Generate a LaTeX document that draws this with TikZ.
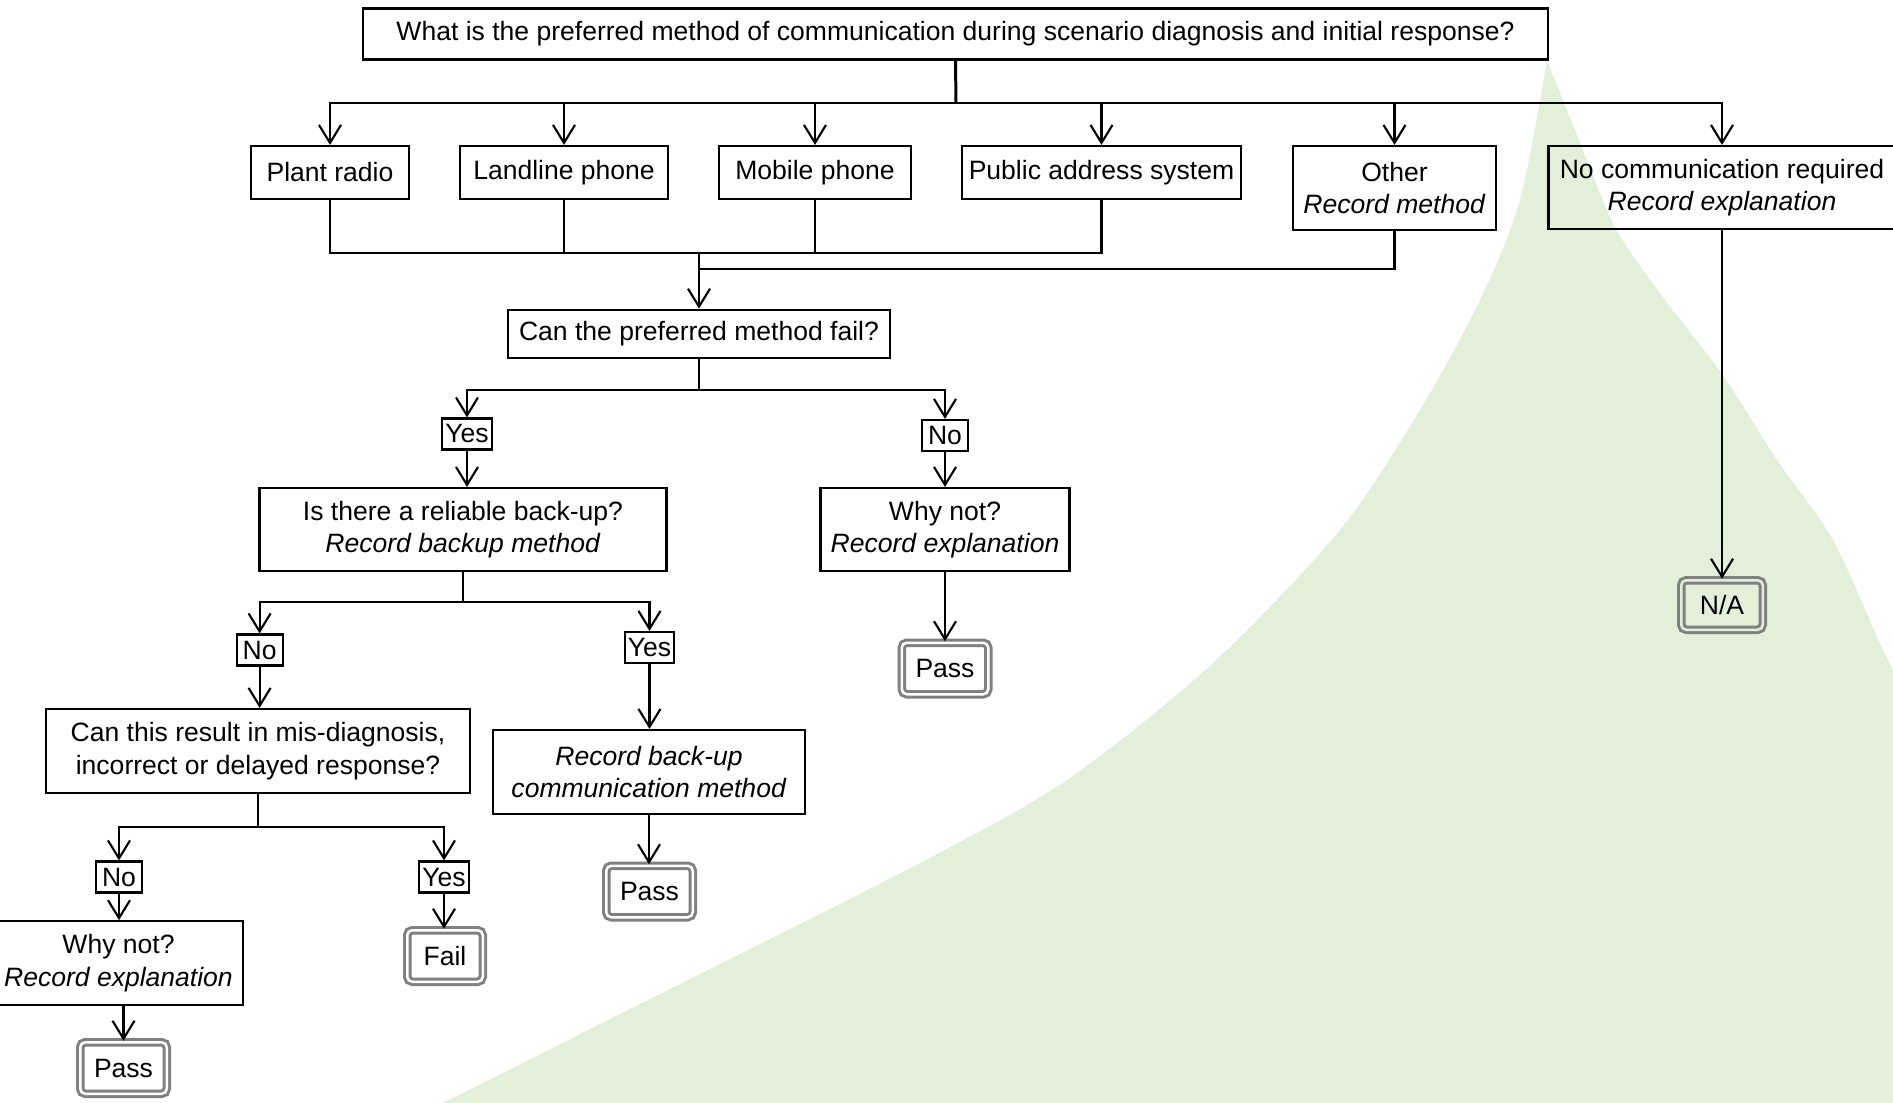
\documentclass[tikz,border=0pt]{standalone}
\usepackage{fontspec}
\setmainfont{Liberation Sans}
\usetikzlibrary{arrows.meta}
\definecolor{leafgreen}{RGB}{226,240,217}
\definecolor{termgray}{RGB}{128,128,128}

\begin{document}
\begin{tikzpicture}[
		every node/.style={font=\fontsize{7.55}{9.3}\selectfont, align=center, inner sep=0pt},
		box/.style={draw, line width=0.6pt},
		lbl/.style={draw, line width=0.6pt, minimum width=4.6mm, minimum height=3.1mm, inner xsep=0.3mm},
		term/.style={draw=termgray, line width=0.3mm, double=white, double distance=0.25mm, rounded corners=0.5mm, minimum width=8.65mm, minimum height=5.15mm},
		conn/.style={line width=0.6pt},
		arr/.style={conn, -{Straight Barb[length=1.8mm, width=2.2mm]}}
	]
	\useasboundingbox (0,0) rectangle (18.93,-11.03);
	% background leaf
	\fill[leafgreen] plot[smooth] coordinates {(4.43,-11.03) (6.82,-9.83) (9.20,-8.63) (10.67,-7.80) (12.13,-6.63) (13.40,-5.30) (14.20,-4.10) (14.80,-3.00) (15.20,-2.00) (15.47,-0.60)}
		-- plot[smooth] coordinates {(15.47,-0.60) (15.75,-1.30) (16.15,-2.27) (16.65,-3.00) (17.22,-3.74) (17.77,-4.60) (18.33,-5.40) (18.83,-6.50) (19.10,-7.00)}
		-- (19.10,-11.20) -- (4.00,-11.20) -- cycle;

	% question and methods
	\node[box, minimum width=118.5mm, minimum height=5.1mm] (q0) at (9.555,-0.34) {What is the preferred method of communication during scenario diagnosis and initial response?};
	\node[box, minimum width=15.8mm, minimum height=5.3mm] (m1) at (3.30,-1.725) {Plant radio};
	\node[box, minimum width=20.75mm, minimum height=5.3mm] (m2) at (5.64,-1.725) {Landline phone};
	\node[box, minimum width=19.2mm, minimum height=5.3mm] (m3) at (8.15,-1.725) {Mobile phone};
	\node[box, minimum width=27.9mm, minimum height=5.3mm] (m4) at (11.015,-1.725) {Public address system};
	\node[box, minimum width=20.3mm, minimum height=8.4mm] (m5) at (13.945,-1.88) {Other\\\textit{Record method}};
	\node[box, minimum width=34.7mm, minimum height=8.3mm] (m6) at (17.22,-1.875) {No communication required\\\textit{Record explanation}};

	\coordinate (top) at (9.56,-1.03);
	\draw[conn, line width=0.85pt] (q0.south) -- (top);
	\foreach \m in {m1,m2,m3,m4,m5,m6}
		\draw[arr] (top) -| (\m.north);

	% can it fail
	\node[box, minimum width=38.2mm, minimum height=4.85mm] (q1) at (6.99,-3.34) {Can the preferred method fail?};
	\coordinate (gath) at (6.99,-2.53);
	\coordinate (gath2) at (6.99,-2.69);
	\foreach \m in {m1,m2,m3,m4}
		\draw[conn] (\m.south) |- (gath);
	\draw[conn] (m5.south) |- (gath2);
	\draw[arr] (gath) -- (q1.north);

	\node[lbl] (y1) at (4.67,-4.34) {Yes};
	\node[lbl] (n1) at (9.45,-4.355) {No};
	\draw[arr] (q1.south) -- ++(0,-0.305) -| (y1.north);
	\draw[arr] (q1.south) -- ++(0,-0.305) -| (n1.north);

	\node[box, minimum width=40.7mm, minimum height=8.3mm] (q2) at (4.63,-5.295) {Is there a reliable back-up?\\\textit{Record backup method}};
	\node[box, minimum width=24.9mm, minimum height=8.3mm] (w1) at (9.45,-5.295) {Why not?\\\textit{Record explanation}};
	\node[term] (p1) at (9.45,-6.685) {Pass};
	\draw[arr] (y1.south) -- (y1.south |- q2.north);
	\draw[arr] (n1.south) -- (w1.north);
	\draw[arr] (w1.south) -- (p1.north);

	% back-up branch
	\node[lbl] (n2) at (2.596,-6.50) {No};
	\node[lbl] (y2) at (6.495,-6.475) {Yes};
	\draw[arr] (q2.south) -- ++(0,-0.30) -| (n2.north);
	\draw[arr] (q2.south) -- ++(0,-0.30) -| (y2.north);

	\node[box, minimum width=42.4mm, minimum height=8.4mm] (q3) at (2.58,-7.51) {Can this result in mis-diagnosis,\\incorrect or delayed response?};
	\node[box, minimum width=31.2mm, minimum height=8.4mm] (r1) at (6.49,-7.72) {\textit{Record back-up}\\\textit{communication method}};
	\node[term] (p2) at (6.495,-8.915) {Pass};
	\draw[arr] (n2.south) -- (n2.south |- q3.north);
	\draw[arr] (y2.south) -- (y2.south |- r1.north);
	\draw[arr] (r1.south) -- (r1.south |- p2.north);

	\node[lbl] (n3) at (1.19,-8.77) {No};
	\node[lbl] (y3) at (4.44,-8.77) {Yes};
	\draw[arr] (q3.south) -- ++(0,-0.33) -| (n3.north);
	\draw[arr] (q3.south) -- ++(0,-0.33) -| (y3.north);

	\node[box, minimum width=24.9mm, minimum height=8.35mm] (w2) at (1.185,-9.63) {Why not?\\\textit{Record explanation}};
	\node[term] (p3) at (1.235,-10.68) {Pass};
	\node[term, minimum width=7.55mm] (f1) at (4.45,-9.56) {Fail};
	\draw[arr] (n3.south) -- (n3.south |- w2.north);
	\draw[arr] (w2.south -| p3.north) -- (p3.north);
	\draw[arr] (y3.south) -- (y3.south |- f1.north);

	% no communication
	\node[term, double=leafgreen, minimum width=8.15mm, minimum height=4.95mm] (na) at (17.22,-6.05) {N/A};
	\draw[arr] (m6.south) -- (na.north);
\end{tikzpicture}
\end{document}
